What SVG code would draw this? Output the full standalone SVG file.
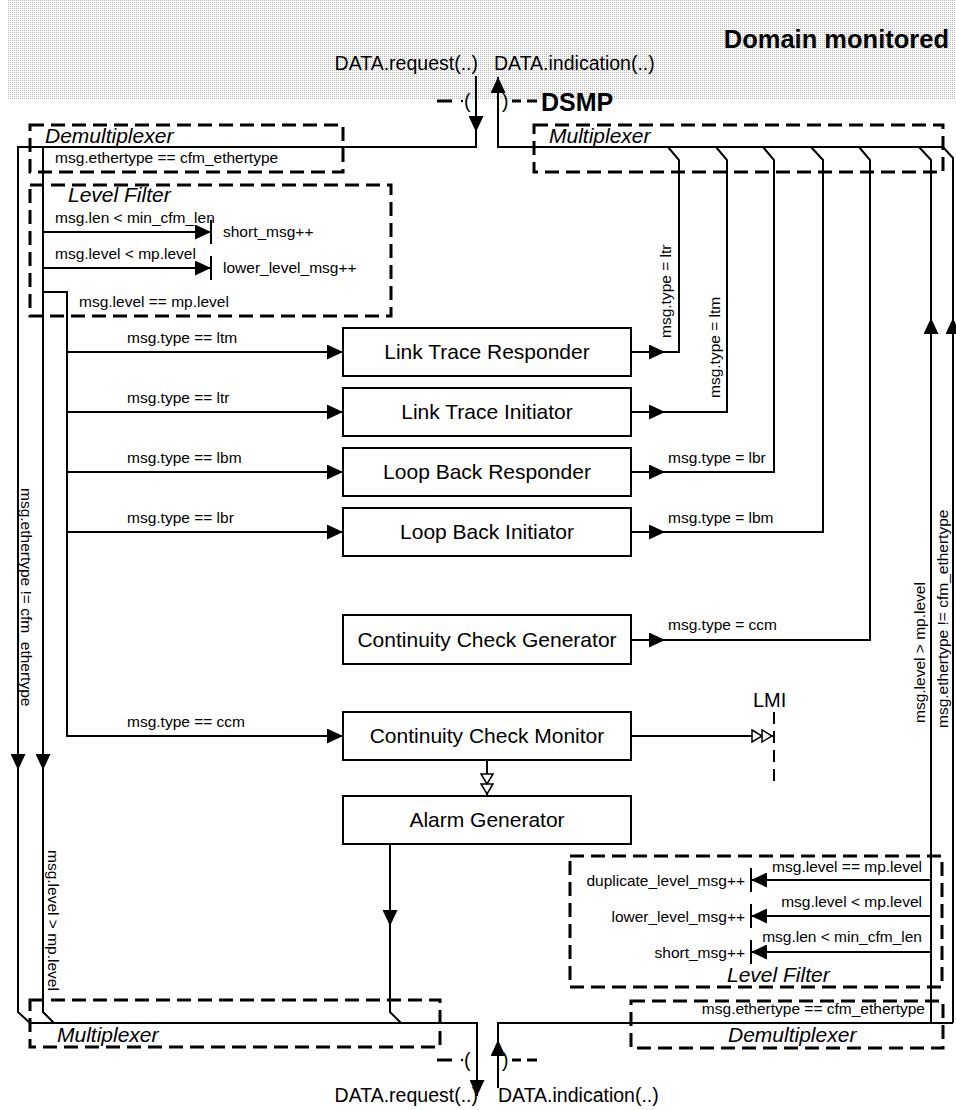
<svg xmlns="http://www.w3.org/2000/svg" width="956" height="1110" viewBox="0 0 956 1110">
<defs>
<pattern id="dots" width="2" height="2" patternUnits="userSpaceOnUse"><rect width="2" height="2" fill="#ffffff"/><rect width="1" height="1" fill="#b8b8b8"/></pattern>
<marker id="ah" viewBox="0 0 16 15" refX="16" refY="7.5" markerWidth="16" markerHeight="15" markerUnits="userSpaceOnUse" orient="auto"><path d="M0,0 L16,7.5 L0,15 z" fill="#000"/></marker>
<marker id="dh" viewBox="-1 -1 23 14" refX="21" refY="6" markerWidth="23" markerHeight="14" markerUnits="userSpaceOnUse" orient="auto"><path d="M0,0 L10,6 L0,12 z M10,0 L20,6 L10,12 z" fill="#fff" stroke="#000" stroke-width="1.5"/></marker>
</defs>
<style>
.ln{fill:none;stroke:#000;stroke-width:2}
.ar{fill:none;stroke:#000;stroke-width:2;marker-end:url(#ah)}
.da{fill:none;stroke:#000;stroke-width:2;marker-end:url(#dh)}
.grp{fill:none;stroke:#000;stroke-width:3;stroke-dasharray:14 7}
.box{fill:#fff;stroke:#000;stroke-width:2}
.dsh{fill:none;stroke:#000;stroke-width:3}
text{font-family:"Liberation Sans",Arial,sans-serif;fill:#000}
.s{font-size:15.5px}
.e{text-anchor:end}
.bl{font-size:21px;text-anchor:middle}
.hd{font-size:21px;font-style:italic}
.io{font-size:19.5px}
</style>
<rect x="8" y="0" width="948" height="100" fill="url(#dots)"/>

<g id="domain">
<text x="949" y="48" font-size="25.5" font-weight="bold" text-anchor="end">Domain monitored</text>
</g>

<g id="dsmp">
<path class="dsh" d="M437,101 H452 M512,101 H521 M527,101 H537"/>
<circle cx="462" cy="101" r="1.2" fill="#000"/>
<text class="io" x="464" y="108">(</text>
<text class="io" x="502" y="108">)</text>
<text x="541" y="111" font-size="25" font-weight="bold">DSMP</text>
<path class="dsh" d="M437,1060 H452 M512,1060 H521 M527,1060 H537"/>
<circle cx="462" cy="1060" r="1.2" fill="#000"/>
<text class="io" x="464" y="1067">(</text>
<text class="io" x="502" y="1067">)</text>
</g>

<g id="demux-top">
<rect class="grp" x="30" y="125" width="313" height="47"/>
<text class="hd" x="45" y="143">Demultiplexer</text>
<text class="s" x="55" y="163">msg.ethertype == cfm_ethertype</text>
</g>
<g id="mux-top">
<rect class="grp" x="534" y="125" width="409" height="47"/>
<text class="hd" x="549" y="143">Multiplexer</text>
</g>
<g id="levelfilter-left">
<rect class="grp" x="30" y="185" width="361" height="131"/>
<text class="hd" x="68" y="202">Level Filter</text>
<text class="s" x="55" y="223">msg.len &lt; min_cfm_len</text>
<text class="s" x="223" y="237">short_msg++</text>
<text class="s" x="55" y="259">msg.level &lt; mp.level</text>
<text class="s" x="223" y="273">lower_level_msg++</text>
<text class="s" x="79" y="307">msg.level == mp.level</text>
</g>
<g id="levelfilter-right">
<rect class="grp" x="570" y="856" width="372" height="131"/>
<text class="s e" x="922" y="872">msg.level == mp.level</text>
<text class="s e" x="745" y="886">duplicate_level_msg++</text>
<text class="s e" x="922" y="907">msg.level &lt; mp.level</text>
<text class="s e" x="745" y="922">lower_level_msg++</text>
<text class="s e" x="922" y="942">msg.len &lt; min_cfm_len</text>
<text class="s e" x="745" y="958">short_msg++</text>
<text class="hd" x="727" y="982">Level Filter</text>
</g>
<g id="demux-bottom">
<rect class="grp" x="631" y="1001" width="312" height="47"/>
<text class="s e" x="925" y="1014">msg.ethertype == cfm_ethertype</text>
<text class="hd" x="728" y="1042">Demultiplexer</text>
</g>
<g id="mux-bottom">
<rect class="grp" x="30" y="1000" width="410" height="47"/>
<text class="hd" x="57" y="1042">Multiplexer</text>
</g>

<g id="connectors">
<path class="ar" d="M476,76 V132"/>
<path class="ar" d="M476,132 V147 H18 V770"/>
<path class="ar" d="M18,770 V1012 L30,1023 H477 V1096"/>
<path class="ar" d="M43,147 V770"/>
<path class="ln" d="M43,770 V1012 L54,1023"/>
<path class="ar" d="M43,232 H211"/>
<path class="ln" d="M211,220 V244"/>
<path class="ar" d="M43,268 H211"/>
<path class="ln" d="M211,256 V280"/>
<path class="ar" d="M43,292 H67 V736 H343"/>
<path class="ar" d="M67,352 H343"/>
<path class="ar" d="M67,412 H343"/>
<path class="ar" d="M67,472 H343"/>
<path class="ar" d="M67,532 H343"/>
<path class="ar" d="M631,352 H665"/>
<path class="ln" d="M665,352 H679 V160 L668,147"/>
<path class="ar" d="M631,412 H665"/>
<path class="ln" d="M665,412 H727 V160 L716,147"/>
<path class="ar" d="M631,472 H665"/>
<path class="ln" d="M665,472 H774 V160 L763,147"/>
<path class="ar" d="M631,532 H665"/>
<path class="ln" d="M665,532 H823 V160 L811,147"/>
<path class="ar" d="M631,640 H665"/>
<path class="ln" d="M665,640 H870 V160 L859,147"/>
<path class="ar" d="M943,147 H498 V77"/>
<path class="ar" d="M931,1023 V318"/>
<path class="ln" d="M931,318 V160 L919,147"/>
<path class="ar" d="M953,1023 V318"/>
<path class="ln" d="M953,318 V158 L943,147"/>
<path class="ar" d="M498,1088 V1040"/>
<path class="ln" d="M498,1040 V1023 H953"/>
<path class="ar" d="M931,880 H751"/>
<path class="ln" d="M751,868 V892"/>
<path class="ar" d="M931,916 H751"/>
<path class="ln" d="M751,904 V928"/>
<path class="ar" d="M931,952 H751"/>
<path class="ln" d="M751,940 V964"/>
<path class="ar" d="M390,844 V926"/>
<path class="ln" d="M390,926 V1012 L401,1023"/>
<path class="da" d="M631,736 H773"/>
<path class="da" d="M487,760 V795"/>
<path class="ln" d="M774,712 V786" stroke-width="3" stroke-dasharray="12 7"/>
</g>

<g id="connector-labels">
<text class="s" x="127" y="343">msg.type == ltm</text>
<text class="s" x="127" y="403">msg.type == ltr</text>
<text class="s" x="127" y="463">msg.type == lbm</text>
<text class="s" x="127" y="523">msg.type == lbr</text>
<text class="s" x="127" y="727">msg.type == ccm</text>
<text class="s" transform="translate(671,338) rotate(-90)">msg.type = ltr</text>
<text class="s" transform="translate(720,398) rotate(-90)">msg.type = ltm</text>
<text class="s" x="668" y="463">msg.type = lbr</text>
<text class="s" x="668" y="523">msg.type = lbm</text>
<text class="s" x="668" y="630">msg.type = ccm</text>
<text class="s" transform="translate(925,723) rotate(-90)">msg.level &gt; mp.level</text>
<text class="s" transform="translate(948,728) rotate(-90)">msg.ethertype != cfm_ethertype</text>
<text class="s" transform="translate(21,488) rotate(90)">msg.ethertype != cfm_ethertype</text>
<text class="s" transform="translate(48,850) rotate(90)">msg.level &gt; mp.level</text>
</g>

<g id="lmi">
<text x="753" y="707" font-size="20">LMI</text>
</g>

<g id="ltr"><rect class="box" x="343" y="328" width="288" height="48"/><text class="bl" x="487" y="359">Link Trace Responder</text></g>
<g id="lti"><rect class="box" x="343" y="388" width="288" height="48"/><text class="bl" x="487" y="419">Link Trace Initiator</text></g>
<g id="lbr"><rect class="box" x="343" y="448" width="288" height="48"/><text class="bl" x="487" y="479">Loop Back Responder</text></g>
<g id="lbi"><rect class="box" x="343" y="508" width="288" height="48"/><text class="bl" x="487" y="539">Loop Back Initiator</text></g>
<g id="ccg"><rect class="box" x="343" y="615" width="288" height="49"/><text class="bl" x="487" y="647">Continuity Check Generator</text></g>
<g id="ccm"><rect class="box" x="343" y="712" width="288" height="48"/><text class="bl" x="487" y="743">Continuity Check Monitor</text></g>
<g id="alarm"><rect class="box" x="343" y="796" width="288" height="48"/><text class="bl" x="487" y="827">Alarm Generator</text></g>

<g id="io-labels">
<text class="io e" x="478" y="70">DATA.request(..)</text>
<text class="io" x="494" y="70">DATA.indication(..)</text>
<text class="io e" x="478" y="1102">DATA.request(..)</text>
<text class="io" x="498" y="1102">DATA.indication(..)</text>
</g>
</svg>
